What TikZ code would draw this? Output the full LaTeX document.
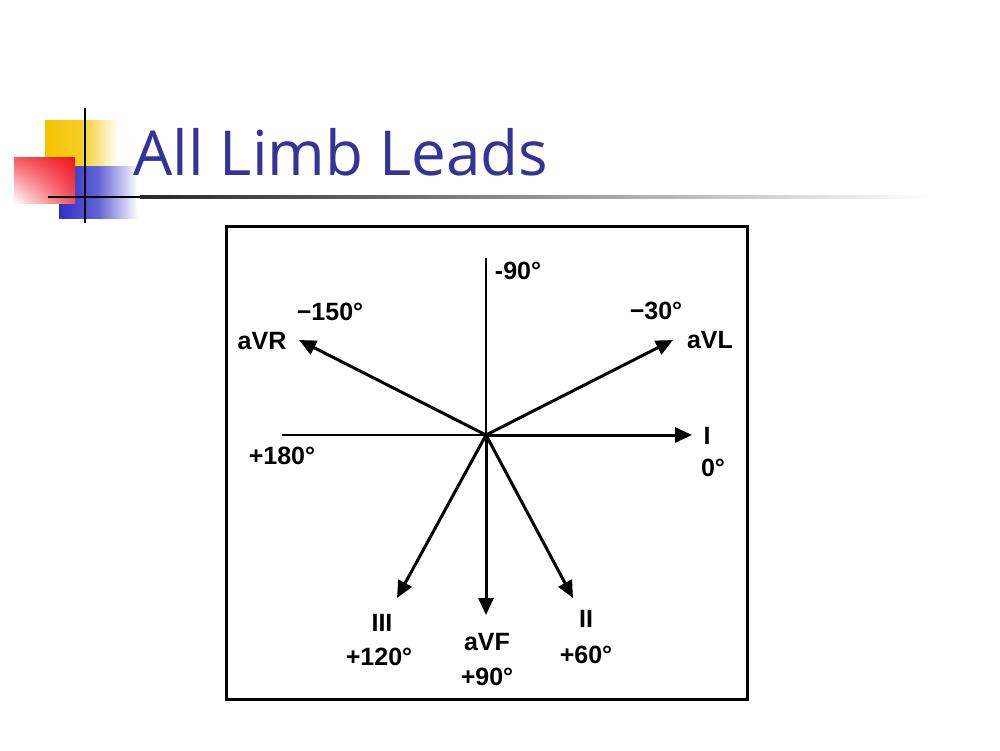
\documentclass[tikz,border=0pt]{standalone}
\usepackage{fontspec}
\setmainfont{Liberation Sans}
\newfontfamily\titlefont{Open Sans}
\usetikzlibrary{arrows.meta,shadings}
\definecolor{titleblue}{HTML}{333399}
\definecolor{logoyellow}{HTML}{F5C400}
\definecolor{logored}{HTML}{F0131E}
\definecolor{logoblue}{HTML}{2F2FC8}
\begin{document}
\begin{tikzpicture}[x=1pt,y=-1pt,
  lbl/.style={font=\fontsize{25}{27}\selectfont\bfseries, inner sep=0pt},
  vec/.style={line width=3pt, -{Triangle[length=17pt,width=15pt]}},
  axisline/.style={line width=1.4pt},
  frame/.style={line width=3pt}]
\useasboundingbox (0,0) rectangle (1000,750);
\fill[white] (0,0) rectangle (1000,750);

% logo
\shade[left color=logoyellow, right color=white, middle color=logoyellow!85!white] (45,120) rectangle (118,168);
\shade[left color=logoblue, right color=white, middle color=logoblue!75!white] (59,166) rectangle (138,218);
\shade[upper right=logored, upper left=logored!70!white, lower right=logored!75!white, lower left=white] (14,157) rectangle (75,203);
\draw[line width=2.8pt] (85,108) -- (85,223);
\draw[line width=2.8pt] (48,197) -- (140,197);
\shade[left color=black!85, right color=white] (140,195.5) rectangle (930,198.5);

% title
\node[anchor=base west, text=titleblue, font=\titlefont\fontsize{62}{70}\selectfont, inner sep=0pt] (title) at (133,175) {All Limb Leads};

% frame
\draw[frame] (226,226) rectangle (747,699);

% axes
\coordinate (O) at (486,435);
\coordinate (top) at (486,258);
\coordinate (left) at (282,435);
\draw[axisline] (O) -- (top);
\draw[axisline] (O) -- (left);

% vectors
\coordinate (tI) at (692,435);
\coordinate (tVR) at (299,340);
\coordinate (tVL) at (673,340);
\coordinate (tVF) at (486,615);
\coordinate (tIII) at (397,598);
\coordinate (tII) at (573,598);
\draw[vec] (O) -- (tI);
\draw[vec] (O) -- (tVR);
\draw[vec] (O) -- (tVL);
\draw[vec] (O) -- (tVF);
\draw[vec] (O) -- (tIII);
\draw[vec] (O) -- (tII);

% labels
\node[lbl] (l90) at (518,271) {-90°};
\node[lbl] (l150) at (330,312) {−150°};
\node[lbl] (lVR) at (262,341) {aVR};
\node[lbl] (l30) at (656,311) {−30°};
\node[lbl] (lVL) at (710,340) {aVL};
\node[lbl] (lI) at (707,436) {I};
\node[lbl] (l0) at (713,468) {0°};
\node[lbl] (l180) at (282,456) {+180°};
\node[lbl] (lIII) at (382,623) {III};
\node[lbl] (l120) at (379,657) {+120°};
\node[lbl] (lVF) at (487,642) {aVF};
\node[lbl] (l90p) at (487,677) {+90°};
\node[lbl] (lII) at (586,619) {II};
\node[lbl] (l60) at (586,655) {+60°};
\end{tikzpicture}
\end{document}
